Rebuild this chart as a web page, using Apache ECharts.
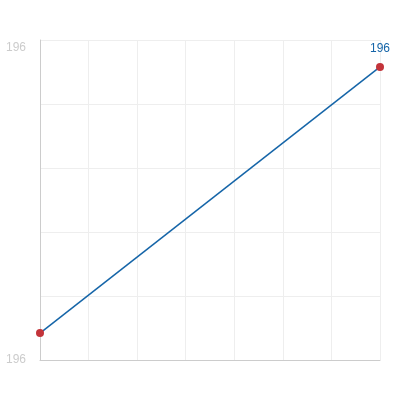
<!DOCTYPE html>
<html><head><meta charset="utf-8">
<script src="https://cdn.jsdelivr.net/npm/echarts@6/dist/echarts.min.js"></script>
<style>html,body{margin:0;padding:0;background:#fff}#c{width:420px;height:400px}</style>
</head><body><div id="c"></div>
<script>
var xValues = [0, 7];
var yValues = [195.921, 196.129];
var yMin = 195.9, yMax = 196.15;
var labelIndex = [1];

var chart = echarts.init(document.getElementById('c'));
chart.setOption({
  animation: false,
  grid: {left: 40, right: 40, top: 40, bottom: 40},
  xAxis: {
    type: 'value', min: 0, max: 7, interval: 1,
    axisLine: {show: true, lineStyle: {color: '#ccc'}},
    axisTick: {show: false},
    axisLabel: {show: false},
    splitLine: {show: true, lineStyle: {color: '#eee'}}
  },
  yAxis: {
    type: 'value', min: yMin, max: yMax, splitNumber: 5,
    axisLine: {show: true, lineStyle: {color: '#ccc'}},
    axisTick: {show: false},
    splitLine: {show: true, lineStyle: {color: '#eee'}},
    axisLabel: {
      color: '#ccc', fontSize: 12, margin: 14,
      formatter: function (v) {
        if (Math.abs(v - yMax) < 1e-6) return '{a|' + Math.round(v) + '}';
        if (Math.abs(v - yMin) < 1e-6) return '{b|' + Math.round(v) + '}';
        return '';
      },
      rich: {
        a: {color: '#ccc', fontSize: 12, padding: [15, 0, 0, 0]},
        b: {color: '#ccc', fontSize: 12, padding: [0, 0, 0, 0]}
      }
    }
  },
  series: [{
    type: 'line',
    data: xValues.map(function (x, i) {
      return {
        value: [x, yValues[i]],
        label: {show: labelIndex.indexOf(i) >= 0}
      };
    }),
    symbol: 'circle', symbolSize: 8,
    lineStyle: {color: '#1565a8', width: 1.5},
    itemStyle: {color: '#c3343a'},
    label: {
      position: 'top', color: '#1565a8', fontSize: 12, distance: 8,
      formatter: function (p) { return Math.round(p.value[1]); }
    }
  }]
});
</script>
</body></html>
